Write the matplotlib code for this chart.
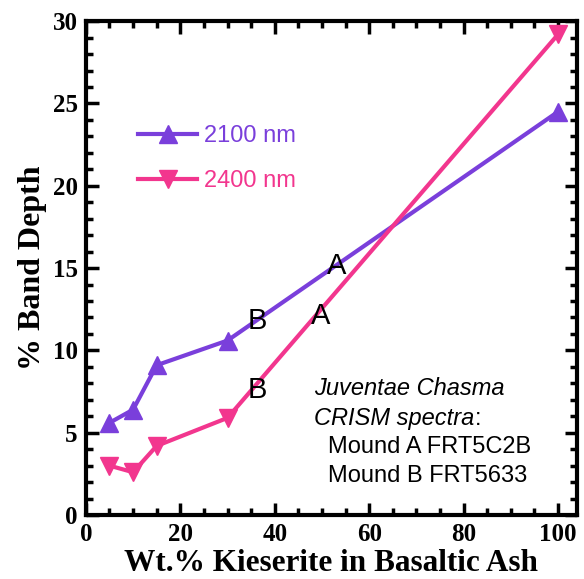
import matplotlib.pyplot as plt
from matplotlib.ticker import MultipleLocator

# data
wt_pct = [5, 10, 15, 30, 100]
bd_2100 = [5.6, 6.4, 9.1, 10.6, 24.5]
bd_2400 = [3.0, 2.6, 4.2, 5.9, 29.2]

# mound labels (x, y, text)
mound_x = [53, 49.7, 36.4, 36.4]
mound_y = [15.1, 12.1, 11.8, 7.6]
mound_txt = ['A', 'A', 'B', 'B']

purple = '#7A3FDB'
pink = '#F2368E'

fig = plt.figure(figsize=(5.84, 5.79), dpi=100)
ax = fig.add_axes([0.147, 0.1105, 0.841, 0.853])

ax.plot(wt_pct, bd_2100, color=purple, lw=3, marker='^', ms=13, label='2100 nm')
ax.plot(wt_pct, bd_2400, color=pink, lw=3, marker='v', ms=13, label='2400 nm')

for x, y, t in zip(mound_x, mound_y, mound_txt):
    ax.text(x, y, t, fontsize=21, family='Liberation Sans', ha='center', va='center')

sans = 'Liberation Sans'
ax.text(48.4, 7.3, 'Juventae Chasma', fontsize=17, family=sans, style='italic', va='baseline')
crism = ax.text(48.4, 5.45, 'CRISM spectra', fontsize=17, family=sans, style='italic', va='baseline')
ax.annotate(':', xy=(1, 0), xycoords=crism, fontsize=17, family=sans, va='bottom', ha='left')
ax.text(51.2, 3.75, 'Mound A FRT5C2B', fontsize=17, family=sans, va='baseline')
ax.text(51.2, 2.0, 'Mound B FRT5633', fontsize=17, family=sans, va='baseline')

leg = ax.legend(loc='upper left', bbox_to_anchor=(0.063, 0.833), frameon=False,
                handlelength=2.5, handletextpad=0.3, labelspacing=1.0,
                prop={'family': sans, 'size': 17}, labelcolor='linecolor')

ax.set_xlim(0, 104)
ax.set_ylim(0, 30)
ax.xaxis.set_major_locator(MultipleLocator(20))
ax.xaxis.set_minor_locator(MultipleLocator(5))
ax.yaxis.set_major_locator(MultipleLocator(5))
ax.yaxis.set_minor_locator(MultipleLocator(1))
ax.tick_params(which='both', direction='in', top=True, right=True, width=2.5)
ax.tick_params(which='major', length=9, pad=6)
ax.tick_params(which='minor', length=5)
for s in ax.spines.values():
    s.set_linewidth(3)
for lab in ax.get_xticklabels() + ax.get_yticklabels():
    lab.set_family('Liberation Serif')
    lab.set_fontweight('bold')
    lab.set_fontsize(18)

ax.set_xlabel('Wt.% Kieserite in Basaltic Ash', family='Liberation Serif',
              fontweight='bold', fontsize=22.5, labelpad=2)
ax.set_ylabel('% Band Depth', family='Liberation Serif', fontweight='bold',
              fontsize=23, labelpad=4)

fig.savefig('out.png', dpi=100)
